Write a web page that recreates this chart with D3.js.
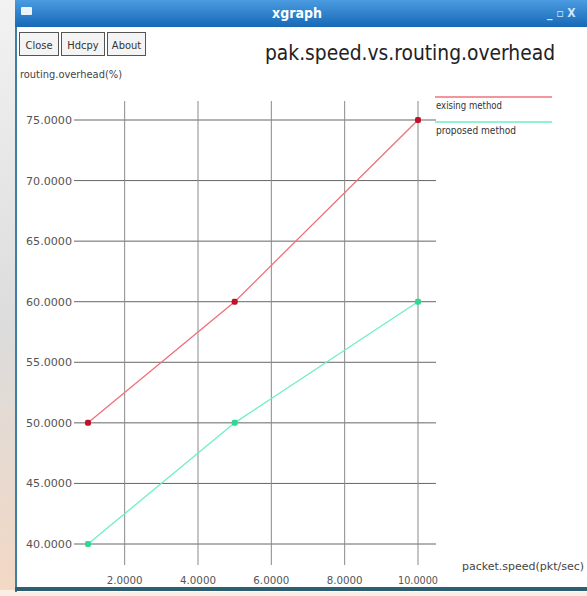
<!DOCTYPE html>
<html>
<head>
<meta charset="utf-8">
<script src="https://cdn.jsdelivr.net/npm/d3@7"></script>
<style>
  body { margin: 0; background: #ececec; }
  text { font-family: "DejaVu Sans Condensed", "Liberation Sans Narrow", "DejaVu Sans", sans-serif; }
</style>
</head>
<body>
<div id="chart"></div>
<script>
const speeds = [1, 5, 10];
const existing = [50, 60, 75];
const proposed = [40, 50, 60];
const xTicks = [2, 4, 6, 8, 10];
const yTicks = [40, 45, 50, 55, 60, 65, 70, 75];
const seriesNames = ["exising method", "proposed method"];

function init() {
    const width = 587;
    const height = 596;

    const svg = d3.select("#chart")
        .append("svg")
        .attr("width", width)
        .attr("height", height);

    const defs = svg.append("defs");
    const grad = defs.append("linearGradient").attr("id", "bar").attr("x1", 0).attr("y1", 0).attr("x2", 0).attr("y2", 1);
    grad.append("stop").attr("offset", "0%").attr("stop-color", "#4a9be0");
    grad.append("stop").attr("offset", "100%").attr("stop-color", "#1769b6");
    const bg = defs.append("linearGradient").attr("id", "side").attr("x1", 0).attr("y1", 0).attr("x2", 0).attr("y2", 1);
    bg.append("stop").attr("offset", "0%").attr("stop-color", "#f2f2f2");
    bg.append("stop").attr("offset", "55%").attr("stop-color", "#dcdcdc");
    bg.append("stop").attr("offset", "100%").attr("stop-color", "#f3d8c4");

    // desktop behind window
    svg.append("rect").attr("width", 16).attr("height", height).attr("fill", "url(#side)");
    svg.append("rect").attr("x", 0).attr("y", 590).attr("width", width).attr("height", 6).attr("fill", "#fbeee4");

    // window frame
    svg.append("rect").attr("x", 15).attr("y", 0).attr("width", width - 15).attr("height", 592).attr("fill", "#ffffff");
    svg.append("rect").attr("x", 15).attr("y", 0).attr("width", width - 15).attr("height", 27).attr("fill", "url(#bar)");
    svg.append("rect").attr("x", 15).attr("y", 27).attr("width", 2).attr("height", 565).attr("fill", "#3f7fa6");
    svg.append("rect").attr("x", 15).attr("y", 587).attr("width", width - 15).attr("height", 4).attr("fill", "#2d5f72");
    svg.append("rect").attr("x", 21).attr("y", 7).attr("width", 11).attr("height", 8).attr("rx", 1).attr("fill", "#ffffff").attr("opacity", 0.9);
    svg.append("text").attr("x", 297).attr("y", 18).attr("text-anchor", "middle")
        .attr("fill", "#ffffff").attr("font-weight", "bold").attr("font-size", 14).text("xgraph");
    svg.append("text").attr("x", 547).attr("y", 17).attr("fill", "#cfe6fb").attr("font-size", 12)
        .attr("font-weight", "bold").text("_ ▫ X");

    // buttons
    [["Close", 19, 39], ["Hdcpy", 61, 43], ["About", 107, 38]].forEach(([label, x, w]) => {
        svg.append("rect").attr("x", x + 0.5).attr("y", 32.5).attr("width", w).attr("height", 23)
            .attr("fill", "#f4f4f4").attr("stroke", "#555");
        svg.append("text").attr("x", x + w / 2 + 0.5).attr("y", 48.5).attr("text-anchor", "middle")
            .attr("font-size", 11).attr("fill", "#333").text(label);
    });

    svg.append("text").attr("x", 265).attr("y", 60).attr("font-size", 22).attr("fill", "#222")
        .attr("font-family", "Liberation Sans, Arial, sans-serif")
        .attr("textLength", 290).attr("lengthAdjust", "spacingAndGlyphs")
        .text("pak.speed.vs.routing.overhead");
    svg.append("text").attr("x", 20).attr("y", 78).attr("font-size", 10).attr("fill", "#444")
        .attr("textLength", 102).attr("lengthAdjust", "spacingAndGlyphs").text("routing.overhead(%)");

    const xScale = d3.scaleLinear().domain([1, 10]).range([88, 418]);
    const yScale = d3.scaleLinear().domain([40, 75]).range([544, 120]);

    // grid
    svg.append("g").selectAll("line").data(yTicks).join("line")
        .attr("x1", 74).attr("x2", 436)
        .attr("y1", d => yScale(d)).attr("y2", d => yScale(d))
        .attr("stroke", "#666").attr("stroke-width", 1);
    svg.append("g").selectAll("line").data(xTicks).join("line")
        .attr("y1", 101).attr("y2", 565)
        .attr("x1", d => xScale(d)).attr("x2", d => xScale(d))
        .attr("stroke", "#8a8a8a").attr("stroke-width", 1);

    svg.append("g").selectAll("text").data(yTicks).join("text")
        .attr("x", 72).attr("y", d => yScale(d) + 4).attr("text-anchor", "end")
        .attr("font-size", 11).attr("fill", "#555")
        .attr("textLength", 46).attr("lengthAdjust", "spacingAndGlyphs")
        .text(d => d.toFixed(4));
    svg.append("g").selectAll("text").data(xTicks).join("text")
        .attr("x", d => xScale(d)).attr("y", 584).attr("text-anchor", "middle")
        .attr("font-size", 11).attr("fill", "#555")
        .attr("textLength", d => d >= 10 ? 40 : 36).attr("lengthAdjust", "spacingAndGlyphs")
        .text(d => d.toFixed(4));
    svg.append("text").attr("x", 462).attr("y", 570).attr("font-size", 10).attr("fill", "#444")
        .attr("textLength", 122).attr("lengthAdjust", "spacingAndGlyphs").text("packet.speed(pkt/sec)");

    const series = [
        { name: seriesNames[0], values: existing, line: "#f0707c", dot: "#c0102a" },
        { name: seriesNames[1], values: proposed, line: "#6eefc6", dot: "#2ed892" }
    ];
    const line = d3.line().x((d, i) => xScale(speeds[i])).y(d => yScale(d));
    series.forEach((s, k) => {
        svg.append("path").attr("d", line(s.values)).attr("fill", "none")
            .attr("stroke", s.line).attr("stroke-width", 1.3);
        svg.append("g").selectAll("rect").data(s.values).join("rect")
            .attr("x", (d, i) => xScale(speeds[i]) - 3).attr("y", d => yScale(d) - 3)
            .attr("width", 6).attr("height", 6).attr("rx", 2).attr("fill", s.dot);

        // legend
        const ly = 97 + k * 25;
        svg.append("line").attr("x1", 435).attr("x2", 552).attr("y1", ly).attr("y2", ly)
            .attr("stroke", s.line).attr("stroke-width", 1.3);
        svg.append("text").attr("x", 436).attr("y", ly + 12).attr("font-size", 11).attr("fill", "#333")
            .attr("textLength", k ? 80 : 66).attr("lengthAdjust", "spacingAndGlyphs").text(s.name);
    });
}

window.onload = init;
</script>
</body>
</html>
